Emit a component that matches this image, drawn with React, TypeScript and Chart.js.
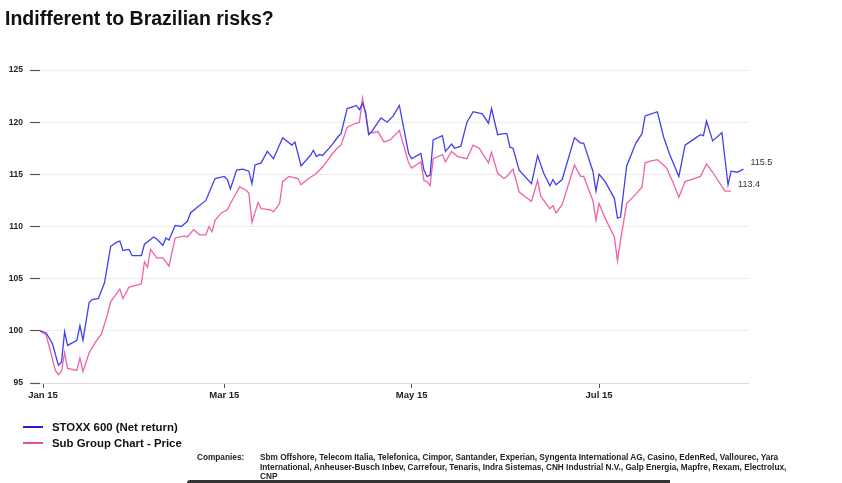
import React, { useEffect, useRef } from "react";
import Chart from "chart.js/auto";

// Day of year 2015
const stoxxDays = [14, 16, 18, 20, 21, 22, 23, 26, 27, 28, 30, 31, 33, 35, 37, 39, 40, 41, 43, 44, 47, 48, 51, 52, 54, 55, 56, 58, 60, 62, 63, 65, 68, 69, 71, 74, 75, 76, 78, 80, 82, 83, 84, 86, 88, 90, 93, 96, 97, 99, 102, 103, 104, 105, 106, 109, 111, 112, 114, 116, 117, 118, 119, 120, 121, 122, 125, 127, 129, 131, 134, 135, 138, 139, 140, 141, 142, 145, 146, 148, 149, 151, 153, 155, 158, 160, 161, 163, 165, 166, 167, 168, 170, 174, 176, 178, 180, 181, 182, 184, 188, 190, 191, 194, 195, 196, 198, 201, 202, 203, 205, 208, 210, 211, 213, 215, 217, 219, 222, 224, 227, 229, 230, 231, 233, 236, 238, 239, 241, 243];
const stoxxValues = [100.0, 99.8, 98.8, 96.7, 97.0, 99.9, 98.6, 99.1, 100.5, 99.1, 102.7, 103.0, 103.1, 104.6, 108.1, 108.5, 108.6, 107.7, 107.8, 107.2, 107.2, 108.3, 109.0, 108.8, 108.2, 108.9, 108.7, 110.1, 110.0, 110.5, 111.3, 111.8, 112.5, 113.2, 114.6, 114.8, 114.5, 113.6, 115.4, 115.5, 115.3, 114.1, 115.9, 116.1, 117.2, 116.5, 118.5, 117.8, 118.1, 115.8, 116.8, 117.3, 116.7, 116.9, 116.8, 117.8, 118.6, 118.9, 121.3, 121.5, 121.6, 121.2, 121.8, 121.0, 118.8, 119.1, 120.4, 120.0, 120.6, 121.6, 117.0, 116.5, 117.0, 115.4, 114.8, 114.9, 118.3, 118.7, 117.2, 117.9, 117.5, 117.7, 120.0, 121.0, 120.8, 119.9, 121.3, 118.8, 118.9, 118.9, 117.6, 117.5, 115.4, 114.1, 116.8, 115.1, 113.9, 114.5, 114.0, 114.5, 118.5, 118.0, 118.0, 115.3, 113.4, 115.0, 114.3, 112.7, 110.8, 110.9, 115.8, 118.0, 118.9, 120.6, 120.8, 121.0, 118.6, 116.9, 114.8, 117.8, 118.4, 118.8, 118.7, 120.1, 118.2, 119.0, 114.0, 115.3, 115.2, 115.5];

const subGroupDays = [14, 16, 17, 19, 20, 21, 22, 23, 26, 27, 28, 30, 32, 34, 36, 37, 40, 41, 43, 47, 48, 49, 50, 52, 54, 56, 58, 61, 62, 64, 66, 68, 69, 70, 71, 73, 75, 76, 79, 81, 82, 83, 85, 86, 89, 90, 92, 93, 95, 98, 99, 101, 104, 106, 109, 111, 112, 114, 116, 118, 119, 120, 121, 124, 126, 128, 131, 134, 135, 138, 139, 140, 141, 142, 145, 146, 148, 150, 153, 155, 157, 160, 161, 163, 165, 166, 168, 170, 174, 176, 177, 180, 181, 182, 184, 188, 190, 191, 194, 195, 196, 198, 201, 202, 203, 205, 208, 210, 211, 213, 215, 217, 218, 220, 222, 224, 226, 229, 231, 233, 237, 239];
const subGroupValues = [100.0, 99.6, 98.5, 96.2, 95.8, 96.1, 97.9, 96.4, 96.2, 97.4, 96.1, 97.9, 98.9, 99.7, 101.6, 102.8, 104.0, 103.1, 104.2, 104.5, 106.6, 106.1, 107.8, 107.0, 107.0, 106.2, 108.9, 109.1, 109.0, 109.7, 109.2, 109.2, 110.0, 109.5, 110.6, 111.3, 111.6, 112.2, 113.8, 113.5, 113.2, 110.4, 112.3, 111.7, 111.6, 111.4, 112.2, 114.3, 114.8, 114.6, 114.0, 114.5, 115.1, 115.7, 116.9, 117.6, 117.8, 119.5, 119.8, 120.0, 122.3, 120.7, 118.9, 119.1, 118.1, 118.3, 119.2, 116.1, 115.6, 116.2, 114.4, 114.3, 113.9, 116.5, 116.9, 116.2, 117.2, 116.7, 116.5, 117.8, 117.5, 116.1, 117.1, 115.1, 114.6, 114.8, 115.5, 113.3, 112.4, 114.4, 112.9, 111.7, 112.0, 111.3, 112.1, 115.9, 114.8, 114.8, 112.5, 110.6, 112.2, 110.8, 109.0, 106.7, 108.7, 112.2, 113.1, 113.8, 116.1, 116.3, 116.4, 115.9, 115.6, 114.3, 112.8, 114.3, 114.5, 114.8, 116.0, 115.2, 113.4, 113.4];

const tickDays = [15, 74, 135, 196];
const tickLabels = ["Jan 15", "Mar 15", "May 15", "Jul 15"];

const seriesNames = ["STOXX 600 (Net return)", "Sub Group Chart - Price"];
const seriesColors = ["#4040ee", "#ee62aa"];
const legendColors = ["#2222cc", "#e84f9e"];
const titleText = "Indifferent to Brazilian risks?";
const companyLines = [
  "Sbm Offshore, Telecom Italia, Telefonica, Cimpor, Santander, Experian, Syngenta International AG, Casino, EdenRed, Vallourec, Yara",
  "International, Anheuser-Busch Inbev, Carrefour, Tenaris, Indra Sistemas, CNH Industrial N.V., Galp Energia, Mapfre, Rexam, Electrolux,",
  "CNP",
];

const FONT = "'Liberation Sans', Arial, sans-serif";

const endLabels = {
  id: "endLabels",
  afterDatasetsDraw(chart: any) {
    const ctx = chart.ctx;
    ctx.save();
    ctx.font = `9px ${FONT}`;
    ctx.fillStyle = "#333";
    ctx.textAlign = "left";
    ctx.textBaseline = "middle";
    chart.data.datasets.forEach((ds: any, i: number) => {
      const meta = chart.getDatasetMeta(i);
      const pt = meta.data[meta.data.length - 1];
      const v = ds.data[ds.data.length - 1].y;
      ctx.fillText(v.toFixed(1), pt.x + 7, pt.y - 7);
    });
    ctx.restore();
  },
};

export default function App() {
  const ref = useRef<HTMLCanvasElement>(null);
  useEffect(() => {
    if (!ref.current) return;
    const chart = new Chart(ref.current, {
      type: "line",
      data: {
        datasets: [
          {
            label: seriesNames[0],
            data: stoxxDays.map((d, i) => ({ x: d, y: stoxxValues[i] })),
            borderColor: seriesColors[0],
            borderWidth: 1.3,
            pointRadius: 0,
            tension: 0,
          },
          {
            label: seriesNames[1],
            data: subGroupDays.map((d, i) => ({ x: d, y: subGroupValues[i] })),
            borderColor: seriesColors[1],
            borderWidth: 1.3,
            pointRadius: 0,
            tension: 0,
          },
        ],
      },
      plugins: [endLabels],
      options: {
        animation: false,
        responsive: false,
        layout: { padding: { top: 70, left: 0, right: 94, bottom: 70 } },
        plugins: { legend: { display: false }, title: { display: false }, tooltip: { enabled: false } },
        scales: {
          x: {
            type: "linear",
            min: 14,
            max: 244.5,
            afterBuildTicks: (s: any) => {
              s.ticks = tickDays.map((v) => ({ value: v }));
            },
            afterFit: (s: any) => {
              s.height = 30;
            },
            ticks: {
              autoSkip: false,
              maxRotation: 0,
              padding: 2,
              color: "#222",
              font: { family: FONT, size: 9.5, weight: "bold" },
              callback: (v: any) => {
                const i = tickDays.indexOf(Number(v));
                return i >= 0 ? tickLabels[i] : "";
              },
            },
            grid: { drawOnChartArea: false, tickLength: 5, tickColor: "#555", tickWidth: 1 },
            border: { display: true, color: "#dcdcdc" },
          },
          y: {
            min: 95,
            max: 125,
            afterFit: (s: any) => {
              s.width = 40;
            },
            ticks: {
              stepSize: 5,
              padding: 7,
              color: "#222",
              font: { family: FONT, size: 8.5, weight: "bold" },
            },
            grid: { color: "#ececec", tickColor: "#555", tickLength: 10, tickWidth: 1.2 },
            border: { display: false },
          },
        },
      },
    } as any);
    return () => chart.destroy();
  }, []);

  return (
    <div style={{ position: "fixed", left: 0, top: 0, width: 842, height: 483, background: "#fff", overflow: "hidden", fontFamily: FONT }}>
      <canvas ref={ref} width={842} height={483} style={{ position: "absolute", left: 0, top: 0, width: 842, height: 483 }} />
      <div style={{ position: "absolute", left: 5, top: 9, fontSize: 19.5, lineHeight: "19.5px", fontWeight: "bold", color: "#111", whiteSpace: "nowrap" }}>
        {titleText}
      </div>
      <div style={{ position: "absolute", left: 23, top: 419 }}>
        {seriesNames.map((n, i) => (
          <div key={n} style={{ display: "flex", alignItems: "center", height: 16 }}>
            <div style={{ width: 20, height: 1.5, background: legendColors[i] }} />
            <div style={{ marginLeft: 9, fontSize: 11.4, fontWeight: "bold", color: "#111", whiteSpace: "nowrap" }}>{n}</div>
          </div>
        ))}
      </div>
      <div style={{ position: "absolute", left: 197, top: 453, fontSize: 8.25, lineHeight: "9.5px", fontWeight: "bold", color: "#222" }}>
        Companies:
      </div>
      <div style={{ position: "absolute", left: 260, top: 453, fontSize: 8.25, lineHeight: "9.5px", fontWeight: "bold", color: "#222", whiteSpace: "nowrap" }}>
        {companyLines.map((l) => (
          <div key={l}>{l}</div>
        ))}
      </div>
      <div style={{ position: "absolute", left: 187, top: 480, width: 483, height: 4, background: "#333", borderTopLeftRadius: 3 }} />
    </div>
  );
}
